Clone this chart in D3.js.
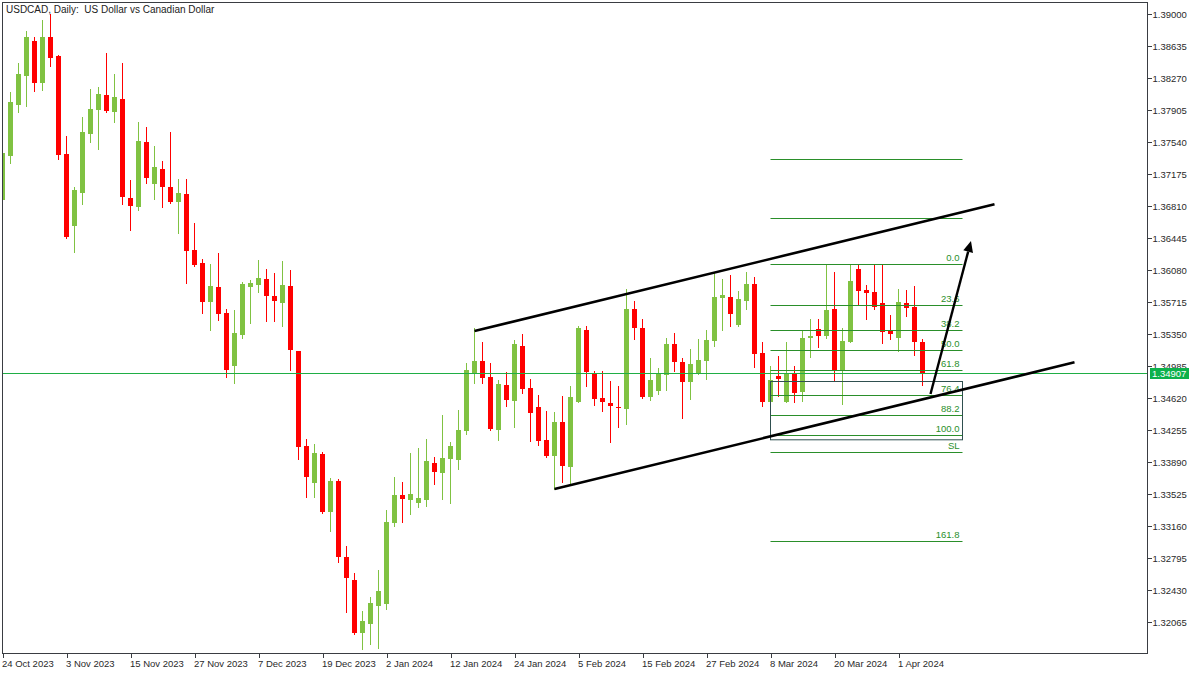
<!DOCTYPE html>
<html><head><meta charset="utf-8">
<script src="https://cdn.jsdelivr.net/npm/d3@7"></script>
<style>
html,body{margin:0;padding:0;background:#fff;}
svg{display:block;font-family:"Liberation Sans",Arial,sans-serif;}
</style>
</head><body>
<svg id="chart" width="1200" height="675"></svg>
<script>
// ---------------- DATA ----------------
const titleText = "USDCAD, Daily:  US Dollar vs Canadian Dollar";
const openP = [1.36878,1.37380,1.37966,1.38293,1.38692,1.38213,1.38738,1.38521,1.37404,1.36583,
1.36959,1.37632,1.37906,1.38077,1.37883,1.38031,1.36902,1.36800,1.37541,1.37062,
1.37233,1.37028,1.36857,1.36948,1.36310,1.36161,1.35717,1.35888,1.35591,1.34987,
1.35341,1.35888,1.35911,1.35979,1.35785,1.35705,1.35899,1.35158,1.34075,1.33653,
1.33984,1.33323,1.33676,1.32810,1.32548,1.31943,1.32046,1.32251,1.32274,1.33197,
1.33517,1.33460,1.33425,1.33460,1.33881,1.33767,1.33927,1.33916,1.34246,1.34907,
1.35044,1.34862,1.34258,1.34771,1.34588,1.35215,1.34736,1.34520,1.34144,1.33961,
1.34349,1.33836,1.34577,1.35398,1.34907,1.34622,1.34565,1.34520,1.34497,1.35637,
1.35420,1.34634,1.34702,1.34885,1.35238,1.35033,1.34805,1.34896,1.35044,1.35272,
1.35762,1.35774,1.35455,1.35728,1.35922,1.35135,1.34577,1.34873,1.34577,1.34907,
1.34691,1.35306,1.35409,1.35329,1.35637,1.34942,1.35261,1.36093,1.35854,1.35831,
1.35705,1.35386,1.35306,1.35705,1.35660,1.35261];
const highP = [1.37450,1.38110,1.38441,1.38806,1.38738,1.38932,1.39000,1.38533,1.37609,1.37028,
1.37826,1.38145,1.38168,1.38555,1.38316,1.38441,1.37108,1.37769,1.37712,1.37495,
1.37324,1.37655,1.37119,1.37119,1.36617,1.36207,1.36150,1.36275,1.35637,1.35626,
1.35945,1.35968,1.36196,1.36093,1.36047,1.36184,1.36082,1.35158,1.34155,1.34098,
1.34007,1.33710,1.33699,1.32935,1.32627,1.32194,1.32354,1.32662,1.33346,1.33722,
1.33665,1.33995,1.34052,1.34155,1.33950,1.34429,1.34121,1.34486,1.35021,1.35420,
1.35261,1.35021,1.34828,1.34919,1.35284,1.35352,1.34839,1.34657,1.34474,1.34463,
1.34645,1.34759,1.35443,1.35443,1.34930,1.34930,1.34816,1.34759,1.35865,1.35728,
1.35523,1.35078,1.34964,1.35306,1.35363,1.35078,1.35181,1.35295,1.35398,1.36059,
1.35979,1.36025,1.35842,1.36059,1.36002,1.35261,1.34987,1.35101,1.35261,1.34987,
1.35398,1.35523,1.35523,1.36150,1.36059,1.35420,1.36139,1.36139,1.35911,1.36139,
1.36139,1.35569,1.35865,1.35854,1.35899,1.35295];
const lowP = [1.36800,1.37301,1.37883,1.37951,1.38122,1.38134,1.38407,1.37347,1.36440,1.36287,
1.36834,1.37541,1.37461,1.37880,1.37769,1.36834,1.36538,1.36766,1.37073,1.36891,
1.36800,1.36845,1.36503,1.35933,1.36127,1.35591,1.35398,1.35512,1.34862,1.34793,
1.35306,1.35477,1.35831,1.35500,1.35500,1.35443,1.34942,1.33927,1.33494,1.33494,
1.33311,1.33106,1.32753,1.32183,1.31932,1.31761,1.31818,1.31772,1.32217,1.33163,
1.33209,1.33300,1.33380,1.33391,1.33642,1.33471,1.33425,1.33813,1.34212,1.34793,
1.34793,1.34258,1.34144,1.34531,1.34292,1.34679,1.34132,1.34087,1.33950,1.33585,
1.33665,1.33653,1.34577,1.34759,1.34543,1.34474,1.34121,1.34292,1.34326,1.35295,
1.34622,1.34600,1.34668,1.34713,1.34930,1.34394,1.34611,1.34896,1.34839,1.35215,
1.35398,1.35443,1.35443,1.35637,1.34976,1.34531,1.34577,1.34645,1.34570,1.34577,
1.34588,1.35090,1.35204,1.35306,1.34828,1.34554,1.35261,1.35694,1.35523,1.35637,
1.35249,1.35295,1.35158,1.35557,1.35113,1.34771];
const closeP = [1.37411,1.37996,1.38316,1.38738,1.38213,1.38738,1.38498,1.37393,1.36458,1.36994,
1.37655,1.37917,1.38088,1.37894,1.38054,1.36914,1.36811,1.37552,1.37130,1.37256,
1.37028,1.36857,1.36959,1.36298,1.36139,1.35717,1.35899,1.35580,1.34942,1.35363,
1.35922,1.35933,1.35990,1.35785,1.35728,1.35911,1.35170,1.34064,1.33722,1.33995,
1.33323,1.33676,1.32810,1.32570,1.31943,1.32080,1.32285,1.32422,1.33209,1.33517,
1.33471,1.33528,1.33482,1.33904,1.33779,1.33938,1.34075,1.34258,1.34942,1.35044,
1.34850,1.34269,1.34782,1.34600,1.35238,1.34725,1.34451,1.34132,1.33961,1.34349,
1.33847,1.34634,1.35420,1.34919,1.34611,1.34577,1.34531,1.34510,1.35637,1.35420,
1.34634,1.34828,1.34907,1.35238,1.35033,1.34805,1.35010,1.35056,1.35284,1.35774,
1.35797,1.35580,1.35751,1.35922,1.35124,1.34577,1.34828,1.34839,1.34907,1.34679,
1.35306,1.35329,1.35329,1.35626,1.34942,1.35272,1.35956,1.35842,1.35819,1.35660,
1.35375,1.35352,1.35717,1.35648,1.35261,1.34907];

const yTickValues = [1.39000,1.38635,1.38270,1.37905,1.37540,1.37175,1.36810,1.36445,1.36080,1.35715,
1.35350,1.34985,1.34620,1.34255,1.33890,1.33525,1.33160,1.32795,1.32430,1.32065];
const xTickIndex = [0,8,16,24,32,40,48,56,64,72,80,88,96,104,112];
const xTickLabels = ["24 Oct 2023","3 Nov 2023","15 Nov 2023","27 Nov 2023","7 Dec 2023","19 Dec 2023",
"2 Jan 2024","12 Jan 2024","24 Jan 2024","5 Feb 2024","15 Feb 2024","27 Feb 2024","8 Mar 2024",
"20 Mar 2024","1 Apr 2024"];
const currentPrice = 1.34907;

const fibHigh = 1.36145, fibLow = 1.34195;
const fibLevels = [-61.8,-27.2,0,23.6,38.2,50,61.8,76.4,88.2,100,110,161.8];
const fibLabels = ["","","0.0","23.6","38.2","50.0","61.8","76.4","88.2","100.0","SL","161.8"];
const fibRange = [96,120];            // bar index span
const boxIdx = [96,120], boxPrice = [1.34817,1.34152];
const channelUpper = [[59,1.35384],[124,1.36829]];
const channelLower = [[69,1.33582],[134,1.35027]];
const arrowLine = [[116,1.34666],[121.06,1.36411]];

// ---------------- LAYOUT ----------------
const L = 2.5, T = 2.5, R = 1147.5, B = 653.5;
const svg = d3.select("#chart");
svg.append("rect").attr("width",1200).attr("height",675).attr("fill","#fff");

const x = d3.scaleLinear().domain([0,100]).range([2.5, 802.5]);
const y = d3.scaleLinear().domain([1.32065,1.39]).range([622,14]);

svg.append("defs").append("clipPath").attr("id","plot")
  .append("rect").attr("x",L+0.5).attr("y",T+0.5).attr("width",R-L-1).attr("height",B-T-1);

const plot = svg.append("g").attr("clip-path","url(#plot)");

// candles
const bars = d3.range(openP.length).map(i => ({i, o:openP[i], h:highP[i], l:lowP[i], c:closeP[i]}));
const up = "#80c242", dn = "#ff0000";
const cg = plot.append("g").attr("shape-rendering","crispEdges");
cg.selectAll("rect.wick").data(bars).join("rect").attr("class","wick")
  .attr("x", d => Math.round(x(d.i)-0.5)).attr("width",1)
  .attr("y", d => Math.round(y(d.h))).attr("height", d => Math.max(1, Math.round(y(d.l))-Math.round(y(d.h))+1))
  .attr("fill", d => d.c >= d.o ? up : dn);
cg.selectAll("rect.body").data(bars).join("rect").attr("class","body")
  .attr("x", d => Math.round(x(d.i)-2.5)).attr("width",5)
  .attr("y", d => Math.round(y(Math.max(d.o,d.c))))
  .attr("height", d => Math.max(1, Math.round(y(Math.min(d.o,d.c))) - Math.round(y(Math.max(d.o,d.c)))))
  .attr("fill", d => d.c >= d.o ? up : dn);

// current price line
plot.append("line").attr("x1",L).attr("x2",R)
  .attr("y1",Math.round(y(currentPrice))+0.5).attr("y2",Math.round(y(currentPrice))+0.5)
  .attr("stroke","#1fae45").attr("stroke-width",1);

// fib
const fibG = plot.append("g");
const fibData = fibLevels.map((lv,k) => ({p: fibHigh - (fibHigh-fibLow)*lv/100, label: fibLabels[k]}));
fibG.selectAll("line").data(fibData).join("line")
  .attr("x1", x(fibRange[0])).attr("x2", x(fibRange[1]))
  .attr("y1", d => Math.round(y(d.p))+0.5).attr("y2", d => Math.round(y(d.p))+0.5)
  .attr("stroke","#2a8f2a").attr("stroke-width",1);
fibG.selectAll("text").data(fibData.filter(d=>d.label)).join("text")
  .attr("x", x(fibRange[1]) - 3).attr("y", d => Math.round(y(d.p)) - 3)
  .attr("text-anchor","end").attr("font-size","9.5px").attr("fill","#2a8f2a")
  .text(d => d.label);
// box
plot.append("rect").attr("x", Math.round(x(boxIdx[0]))-0.5).attr("y", Math.round(y(boxPrice[0]))+0.5)
  .attr("width", x(boxIdx[1]) - x(boxIdx[0])).attr("height", y(boxPrice[1]) - y(boxPrice[0]))
  .attr("fill","none").attr("stroke","#2f4f4f").attr("stroke-width",1);

// channel lines
const lineGen = d3.line().x(d => x(d[0])).y(d => y(d[1]));
[channelUpper, channelLower].forEach(seg => {
  plot.append("path").attr("d", lineGen(seg)).attr("stroke","#000").attr("stroke-width",2.6)
    .attr("fill","none");
});
// arrow
const a0 = [x(arrowLine[0][0]), y(arrowLine[0][1])], a1 = [x(arrowLine[1][0]), y(arrowLine[1][1])];
const ang = Math.atan2(a1[1]-a0[1], a1[0]-a0[0]);
const headLen = 11, headW = 5;
const base = [a1[0]-headLen*Math.cos(ang), a1[1]-headLen*Math.sin(ang)];
plot.append("line").attr("x1",a0[0]).attr("y1",a0[1]).attr("x2",base[0]).attr("y2",base[1])
  .attr("stroke","#000").attr("stroke-width",2.4);
plot.append("path").attr("d", d3.line()([
  a1,
  [base[0]+headW*Math.sin(ang), base[1]-headW*Math.cos(ang)],
  [base[0]-headW*Math.sin(ang), base[1]+headW*Math.cos(ang)]
]) + "Z").attr("fill","#000");

// frame
svg.append("rect").attr("x",L).attr("y",T).attr("width",R-L).attr("height",B-T)
  .attr("fill","none").attr("stroke","#3a3d42").attr("stroke-width",1);

// axes
const yAxis = d3.axisRight(y).tickValues(yTickValues).tickSize(4).tickPadding(1)
  .tickFormat(d3.format(".5f"));
const gy = svg.append("g").attr("transform",`translate(${R},0)`).call(yAxis);
gy.select(".domain").remove();
gy.selectAll("line").attr("stroke","#3a3d42").attr("shape-rendering","crispEdges");
gy.selectAll("text").attr("font-family","Liberation Sans, Arial, sans-serif")
  .attr("font-size","9.5px").attr("fill","#2a2a2a");

const xAxis = d3.axisBottom(x).tickValues(xTickIndex).tickSize(4)
  .tickFormat((d,k) => xTickLabels[k]);
const gx = svg.append("g").attr("transform",`translate(0,${B})`).call(xAxis);
gx.select(".domain").remove();
gx.selectAll("line").attr("stroke","#3a3d42").attr("shape-rendering","crispEdges");
gx.selectAll("text").attr("text-anchor","start").attr("x",-1).attr("y",7).attr("dy","0.71em")
  .attr("font-family","Liberation Sans, Arial, sans-serif")
  .attr("font-size","9.5px").attr("fill","#2a2a2a");

// current price label
const cpY = Math.round(y(currentPrice))+0.5;
svg.append("rect").attr("x",1150).attr("y",cpY-5.5).attr("width",39).attr("height",11).attr("fill","#0db14b");
svg.append("text").attr("x",1152).attr("y",cpY).attr("dy","0.35em")
  .attr("font-size","9.5px").attr("fill","#fff").text(d3.format(".5f")(currentPrice));

// title
svg.append("text").attr("x",6).attr("y",13).attr("font-size","10px").attr("fill","#222")
  .style("white-space","pre").text(titleText);
</script>
</body></html>
